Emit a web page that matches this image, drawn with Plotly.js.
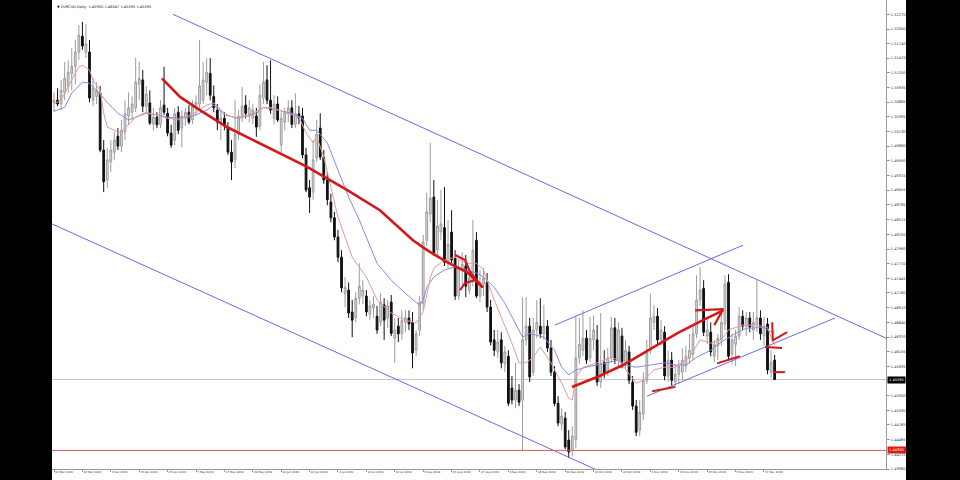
<!DOCTYPE html>
<html><head><meta charset="utf-8">
<script src="https://cdn.plot.ly/plotly-3.0.1.min.js"></script>
<style>
html,body{margin:0;padding:0;background:#000;overflow:hidden;width:960px;height:480px;}
#chart{position:absolute;left:52px;top:0;width:854px;height:480px;background:#fff;}
</style></head><body><div id="chart"></div>
<script>
const symbolHeader = "\u25BC EURCAD,Daily  1.45950 1.46047 1.45595 1.45595";
const dateLabels = ["12 Mar 2019","22 Mar 2019","3 Apr 2019","15 Apr 2019","25 Apr 2019","7 May 2019","17 May 2019","29 May 2019","10 Jun 2019","20 Jun 2019","2 Jul 2019","12 Jul 2019","24 Jul 2019","5 Aug 2019","15 Aug 2019","27 Aug 2019","6 Sep 2019","18 Sep 2019","30 Sep 2019","10 Oct 2019","22 Oct 2019","1 Nov 2019","13 Nov 2019","25 Nov 2019","5 Dec 2019","17 Dec 2019"];
const barsPerLabel = 8;
const priceTicks = [1.52270,1.52000,1.51740,1.51470,1.51200,1.50935,1.50665,1.50395,1.50130,1.49860,1.49590,1.49325,1.49055,1.48785,1.48515,1.48250,1.47980,1.47710,1.47445,1.47180,1.46910,1.46640,1.46370,1.46105,1.45835,1.45570,1.45300,1.45030,1.44765,1.44495,1.44225,1.43960];

const openP = [
1.5065,1.5070,1.5063,1.5084,1.5096,1.5118,1.5132,1.5158,1.5187,1.5158,
1.5158,1.5070,1.5077,1.5083,1.4979,1.4924,1.4957,1.4975,1.5004,1.4986,
1.5012,1.5041,1.5048,1.5056,1.5099,1.5107,1.5059,1.5065,1.5026,1.5039,
1.5026,1.5061,1.5046,1.5010,1.4997,1.5048,1.5019,1.5037,1.5048,1.5034,
1.5056,1.5063,1.5070,1.5103,1.5119,1.5077,1.5052,1.5030,1.5037,1.5019,
1.4975,1.4961,1.5008,1.5041,1.5061,1.5041,1.5037,1.5041,1.5023,1.5074,
1.5107,1.5070,1.5037,1.5063,1.4988,1.5030,1.5045,1.5056,1.5026,1.5045,
1.5041,1.4970,1.4910,1.4902,1.4964,1.5019,1.4966,1.4924,1.4884,1.4855,
1.4820,1.4783,1.4717,1.4723,1.4683,1.4672,1.4708,1.4712,1.4712,1.4679,
1.4690,1.4675,1.4664,1.4696,1.4672,1.4701,1.4635,1.4657,1.4643,1.4664,
1.4672,1.4664,1.4613,1.4650,1.4699,1.4814,1.4862,1.4893,1.4796,1.4829,
1.4837,1.4774,1.4829,1.4781,1.4712,1.4760,1.4767,1.4723,1.4741,1.4814,
1.4712,1.4734,1.4737,1.4692,1.4632,1.4610,1.4632,1.4588,1.4602,1.4544,
1.4522,1.4540,1.4522,1.4632,1.4657,1.4573,1.4650,1.4657,1.4643,1.4657,
1.4617,1.4573,1.4516,1.4478,1.4489,1.4449,1.4430,1.4449,1.4599,1.4613,
1.4635,1.4599,1.4632,1.4632,1.4555,1.4591,1.4573,1.4599,1.4654,1.4595,
1.4639,1.4591,1.4610,1.4555,1.4511,1.4467,1.4496,1.4558,1.4613,1.4664,
1.4675,1.4632,1.4646,1.4566,1.4595,1.4555,1.4569,1.4573,1.4584,1.4599,
1.4606,1.4643,1.4705,1.4726,1.4639,1.4646,1.4602,1.4621,1.4632,1.4661,
1.4737,1.4606,1.4624,1.4639,1.4675,1.4657,1.4672,1.4650,1.4661,1.4672,
1.4639,1.4661,1.4573,1.45950];
const highP = [
1.5084,1.5092,1.5107,1.5140,1.5143,1.5165,1.5180,1.5207,1.5213,1.5209,
1.5180,1.5110,1.5103,1.5096,1.4997,1.4983,1.4997,1.5012,1.5019,1.5034,
1.5070,1.5084,1.5077,1.5147,1.5140,1.5125,1.5096,1.5088,1.5056,1.5048,
1.5070,1.5131,1.5056,1.5025,1.5056,1.5059,1.5052,1.5056,1.5061,1.5070,
1.5079,1.5180,1.5140,1.5147,1.5147,1.5097,1.5063,1.5052,1.5048,1.5030,
1.4997,1.5070,1.5052,1.5094,1.5079,1.5070,1.5063,1.5056,1.5099,1.5140,
1.5134,1.5143,1.5079,1.5077,1.5048,1.5056,1.5070,1.5070,1.5083,1.5059,
1.5056,1.4983,1.4924,1.4997,1.5034,1.5046,1.4979,1.4939,1.4899,1.4866,
1.4833,1.4796,1.4747,1.4737,1.4705,1.4719,1.4772,1.4741,1.4723,1.4705,
1.4712,1.4694,1.4717,1.4708,1.4705,1.4714,1.4672,1.4672,1.4686,1.4686,
1.4686,1.4683,1.4650,1.4712,1.4824,1.4901,1.4992,1.4924,1.4888,1.4906,
1.4911,1.4851,1.4869,1.4796,1.4778,1.4792,1.4787,1.4760,1.4851,1.4829,
1.4760,1.4763,1.4754,1.4705,1.4650,1.4650,1.4646,1.4621,1.4613,1.4566,
1.4590,1.4551,1.4710,1.4710,1.4672,1.4672,1.4705,1.4708,1.4696,1.4668,
1.4632,1.4584,1.4529,1.4507,1.4500,1.4467,1.4474,1.4674,1.4672,1.4686,
1.4650,1.4674,1.4677,1.4659,1.4681,1.4613,1.4617,1.4674,1.4672,1.4664,
1.4654,1.4632,1.4621,1.4566,1.4522,1.4522,1.4573,1.4632,1.4717,1.4696,
1.4690,1.4668,1.4657,1.4613,1.4610,1.4588,1.4595,1.4617,1.4621,1.4643,
1.4659,1.4750,1.4765,1.4741,1.4672,1.4664,1.4632,1.4643,1.4686,1.4750,
1.4752,1.4643,1.4650,1.4692,1.4686,1.4683,1.4683,1.4683,1.4741,1.4686,
1.4674,1.4672,1.4613,1.46047];
const lowP = [
1.5048,1.5059,1.5052,1.5070,1.5084,1.5088,1.5099,1.5143,1.5162,1.5147,
1.5066,1.5059,1.5063,1.4975,1.4902,1.4910,1.4939,1.4961,1.4979,1.4975,
1.4997,1.5025,1.5034,1.5048,1.5070,1.5048,1.5048,1.5025,1.5015,1.5019,
1.5019,1.5043,1.5004,1.4983,1.4988,1.5008,1.4984,1.5023,1.5026,1.5026,
1.5041,1.5052,1.5063,1.5079,1.5070,1.5048,1.5015,1.4997,1.5015,1.4970,
1.4924,1.4946,1.4997,1.5030,1.5037,1.5030,1.5026,1.5003,1.5015,1.5063,
1.5063,1.5045,1.5026,1.5030,1.4975,1.5015,1.5030,1.5019,1.5019,1.5026,
1.4964,1.4902,1.4864,1.4888,1.4957,1.4961,1.4917,1.4878,1.4847,1.4814,
1.4774,1.4719,1.4692,1.4672,1.4637,1.4664,1.4697,1.4697,1.4675,1.4668,
1.4672,1.4643,1.4657,1.4632,1.4654,1.4639,1.4590,1.4628,1.4632,1.4646,
1.4650,1.4580,1.4602,1.4639,1.4686,1.4803,1.4847,1.4785,1.4781,1.4814,
1.4767,1.4763,1.4770,1.4705,1.4705,1.4730,1.4710,1.4715,1.4730,1.4708,
1.4701,1.4712,1.4683,1.4622,1.4602,1.4599,1.4580,1.4573,1.4511,1.4514,
1.4507,1.4511,1.4430,1.4621,1.4555,1.4566,1.4635,1.4635,1.4632,1.4610,
1.4566,1.4511,1.4474,1.4467,1.4432,1.4416,1.4419,1.4434,1.4588,1.4602,
1.4588,1.4591,1.4613,1.4548,1.4544,1.4562,1.4566,1.4591,1.4588,1.4584,
1.4580,1.4580,1.4551,1.4504,1.4456,1.4456,1.4485,1.4551,1.4606,1.4650,
1.4624,1.4621,1.4558,1.4555,1.4548,1.4544,1.4551,1.4558,1.4573,1.4588,
1.4595,1.4635,1.4694,1.4639,1.4624,1.4602,1.4591,1.4595,1.4621,1.4650,
1.4595,1.4588,1.4584,1.4632,1.4650,1.4639,1.4646,1.4632,1.4646,1.4632,
1.4621,1.4569,1.4562,1.45595];
const closeP = [
1.5070,1.5063,1.5088,1.5110,1.5121,1.5132,1.5158,1.5189,1.5169,1.5173,
1.5074,1.5092,1.5088,1.4979,1.4921,1.4961,1.4979,1.4997,1.4986,1.5015,
1.5045,1.5056,1.5063,1.5103,1.5110,1.5059,1.5081,1.5028,1.5039,1.5025,
1.5056,1.5048,1.5010,1.4988,1.5045,1.5015,1.5041,1.5048,1.5030,1.5059,
1.5066,1.5096,1.5107,1.5121,1.5079,1.5056,1.5030,1.5037,1.5023,1.4975,
1.4957,1.5008,1.5041,1.5059,1.5046,1.5056,1.5052,1.5021,1.5079,1.5103,
1.5070,1.5052,1.5063,1.5034,1.5037,1.5048,1.5056,1.5026,1.5045,1.5037,
1.4970,1.4906,1.4893,1.4961,1.5008,1.4966,1.4924,1.4888,1.4855,1.4820,
1.4783,1.4727,1.4728,1.4681,1.4668,1.4708,1.4730,1.4723,1.4683,1.4694,
1.4697,1.4650,1.4701,1.4668,1.4694,1.4644,1.4650,1.4643,1.4668,1.4672,
1.4661,1.4608,1.4643,1.4701,1.4811,1.4866,1.4891,1.4791,1.4840,1.4844,
1.4774,1.4807,1.4778,1.4712,1.4763,1.4770,1.4730,1.4745,1.4796,1.4712,
1.4737,1.4745,1.4692,1.4628,1.4613,1.4628,1.4590,1.4610,1.4516,1.4522,
1.4540,1.4518,1.4632,1.4657,1.4564,1.4650,1.4664,1.4643,1.4657,1.4617,
1.4573,1.4516,1.4480,1.4493,1.4436,1.4427,1.4456,1.4599,1.4624,1.4635,
1.4595,1.4635,1.4650,1.4555,1.4588,1.4571,1.4599,1.4654,1.4595,1.4650,
1.4591,1.4613,1.4558,1.4511,1.4463,1.4500,1.4558,1.4610,1.4672,1.4675,
1.4632,1.4650,1.4566,1.4595,1.4558,1.4569,1.4584,1.4595,1.4602,1.4613,
1.4643,1.4705,1.4723,1.4646,1.4650,1.4610,1.4624,1.4635,1.4664,1.4734,
1.4602,1.4632,1.4639,1.4675,1.4657,1.4672,1.4655,1.4664,1.4672,1.4643,
1.4657,1.4577,1.4591,1.45595];

// Moving averages (bar index, price)
const fastMaX = [0,2,5,7,8,10,11,13,14,15,18,19,21,23,26,29,32,35,37,40,43,45,48,51,55,59,61,65,69,71,73,74,76,78,80,82,84,86,88,91,95,99,102,104,105,106,107,110,113,116,119,121,124,126,129,131,133,135,137,140,143,145,146,147,149,153,157,159,162,164,166,169,172,175,179,182,185,188,190,194,198,201,202,203];
const fastMaY = [1.5063,1.5070,1.5107,1.5131,1.5134,1.5125,1.5107,1.5088,1.5046,1.5021,1.5012,1.5012,1.5025,1.5039,1.5048,1.5043,1.5037,1.5034,1.5039,1.5048,1.5061,1.5065,1.5046,1.5037,1.5043,1.5056,1.5057,1.5048,1.5039,1.5010,1.4992,1.5003,1.4966,1.4911,1.4856,1.4820,1.4783,1.4765,1.4747,1.4705,1.4681,1.4668,1.4663,1.4683,1.4714,1.4745,1.4763,1.4778,1.4783,1.4772,1.4772,1.4760,1.4705,1.4674,1.4626,1.4590,1.4590,1.4600,1.4619,1.4590,1.4553,1.4525,1.4522,1.4564,1.4582,1.4590,1.4600,1.4595,1.4571,1.4553,1.4558,1.4577,1.4582,1.4582,1.4600,1.4632,1.4626,1.4632,1.4650,1.4659,1.4659,1.4655,1.4637,1.4622];
const slowMaX = [0,3,5,8,10,12,15,18,21,23,26,29,32,35,38,41,43,45,46,48,52,57,59,63,67,70,72,74,77,80,83,86,88,91,95,99,103,104,105,107,110,113,116,119,121,124,127,130,132,134,138,141,143,145,147,150,153,156,159,161,164,168,172,175,178,181,185,188,192,195,200,201,203];
const slowMaY = [1.5050,1.5057,1.5083,1.5103,1.5101,1.5088,1.5066,1.5046,1.5034,1.5039,1.5046,1.5043,1.5039,1.5037,1.5039,1.5046,1.5052,1.5061,1.5056,1.5043,1.5037,1.5046,1.5057,1.5052,1.5046,1.5037,1.5015,1.5015,1.4992,1.4942,1.4893,1.4851,1.4820,1.4772,1.4741,1.4717,1.4695,1.4705,1.4728,1.4747,1.4760,1.4765,1.4760,1.4754,1.4747,1.4728,1.4699,1.4663,1.4637,1.4644,1.4637,1.4613,1.4582,1.4568,1.4577,1.4582,1.4586,1.4591,1.4595,1.4586,1.4582,1.4586,1.4590,1.4586,1.4586,1.4600,1.4613,1.4628,1.4644,1.4653,1.4655,1.4650,1.4644];

// Drawn objects (bar index, price)
const upperChannelX = [33.5, 234.4], upperChannelY = [1.5227, 1.4635];
const lowerChannelX = [-0.6, 153], lowerChannelY = [1.4844, 1.4394];
const risingUpperX = [141.1, 194.1], risingUpperY = [1.4659, 1.4805];
const risingLowerX = [167, 220], risingLowerY = [1.4529, 1.4672];
const redTrendX = [30.4,35.5,41.1,48.7,56.1,63.7,71.3,82.5,91.8,101.1,105.1,110.7,116.3,120.8];
const redTrendY = [1.5110,1.5076,1.5052,1.5021,1.4997,1.4973,1.4948,1.4906,1.4869,1.4814,1.4796,1.4774,1.4756,1.4728];
const redArrow1X = [113,115.8,117.2,120.8], redArrow1Y = [1.4787,1.4778,1.4756,1.4728];
const redArrow2X = [114.4,115.8,118.6,120.8], redArrow2Y = [1.4723,1.4736,1.4741,1.4728];
const redRiseX = [145.9,153,160.3,169.9,175.5,182.8,188.5];
const redRiseY = [1.4546,1.4564,1.4586,1.4622,1.4644,1.4668,1.4686];
const redRiseHeadX = [180.6,188.5,186.0], redRiseHeadY = [1.4686,1.4688,1.4659];
const redMarksX = [168.5,174.9,null,186.8,193.2,null,200.3,205.1,null,202.3,202.5,206.5,null,202.5,205.9];
const redMarksY = [1.4538,1.4546,null,1.4589,1.4602,null,1.4619,1.4617,null,1.4664,1.4631,1.4646,null,1.4573,1.4573];
const bidPrice = 1.45595;
const levelPrice = 1.44300;

const barIdx = openP.map((_, i) => i);
const dateTickVals = dateLabels.map((_, k) => k * barsPerLabel);

function line(x, y, color, width) {
  return {type:'scatter', mode:'lines', x:x, y:y, line:{color:color, width:width},
          hoverinfo:'skip', showlegend:false, connectgaps:false};
}

const traces = [
  {type:'candlestick', x:barIdx, open:openP, high:highP, low:lowP, close:closeP,
   increasing:{line:{color:'#9c9c9c', width:1}, fillcolor:'#dedede'},
   decreasing:{line:{color:'#111111', width:1}, fillcolor:'#111111'},
   whiskerwidth:0, hoverinfo:'skip', showlegend:false},
  line(slowMaX, slowMaY, '#8a8ae0', 1),
  line(fastMaX, fastMaY, '#e59a9a', 1),
  line(upperChannelX, upperChannelY, '#6a6ae8', 1),
  line(lowerChannelX, lowerChannelY, '#6a6ae8', 1),
  line(risingUpperX, risingUpperY, '#6a6ae8', 1),
  line(risingLowerX, risingLowerY, '#6a6ae8', 1),
  line(redTrendX, redTrendY, '#d21818', 2.6),
  line(redArrow1X, redArrow1Y, '#d21818', 2.2),
  line(redArrow2X, redArrow2Y, '#d21818', 2.2),
  line(redRiseX, redRiseY, '#d21818', 2.6),
  line(redRiseHeadX, redRiseHeadY, '#d21818', 2.2),
  line(redMarksX, redMarksY, '#d21818', 2)
];

const layout = {
  width:854, height:480,
  margin:{l:0, r:20, t:0, b:11, pad:0},
  paper_bgcolor:'#ffffff', plot_bgcolor:'#ffffff',
  showlegend:false,
  xaxis:{range:[-0.563, 234.37], showgrid:false, zeroline:false, showline:true,
         linecolor:'#9a9a9a', linewidth:1, tickvals:dateTickVals, ticktext:dateLabels,
         ticks:'outside', ticklen:2, tickcolor:'#9a9a9a', ticklabelposition:'outside right',
         tickfont:{family:'DejaVu Sans', size:2.8, color:'#333'},
         rangeslider:{visible:false}, fixedrange:true},
  yaxis:{range:[1.43960, 1.52531], side:'right', showgrid:false, zeroline:false,
         showline:true, linecolor:'#9a9a9a', linewidth:1, ticks:'outside', ticklen:3,
         tickcolor:'#9a9a9a', tickvals:priceTicks, ticktext:priceTicks.map(v => v.toFixed(5)),
         tickfont:{family:'DejaVu Sans', size:3.6, color:'#333'}, fixedrange:true},
  shapes:[
    {type:'line', xref:'paper', x0:0, x1:1, yref:'y', y0:bidPrice, y1:bidPrice,
     line:{color:'#c8c8c8', width:1}, layer:'below'},
    {type:'line', xref:'paper', x0:0, x1:1, yref:'y', y0:levelPrice, y1:levelPrice,
     line:{color:'#d85a5a', width:1}, layer:'above'}
  ],
  annotations:[
    {xref:'paper', yref:'paper', x:0.003, y:1, xanchor:'left', yanchor:'top', yshift:-3,
     text:symbolHeader, showarrow:false, font:{family:'DejaVu Sans', size:3.6, color:'#222'}},
    {xref:'paper', yref:'y', x:1, y:bidPrice, xanchor:'left', xshift:1, text:bidPrice.toFixed(5),
     showarrow:false, bgcolor:'#000000', borderpad:1, font:{family:'DejaVu Sans', size:3.6, color:'#fff'}},
    {xref:'paper', yref:'y', x:1, y:levelPrice, xanchor:'left', xshift:1, text:levelPrice.toFixed(5),
     showarrow:false, bgcolor:'#e01818', borderpad:1, font:{family:'DejaVu Sans', size:3.6, color:'#fff'}}
  ]
};

Plotly.newPlot('chart', traces, layout, {staticPlot:true, displayModeBar:false});
</script>
</body></html>
